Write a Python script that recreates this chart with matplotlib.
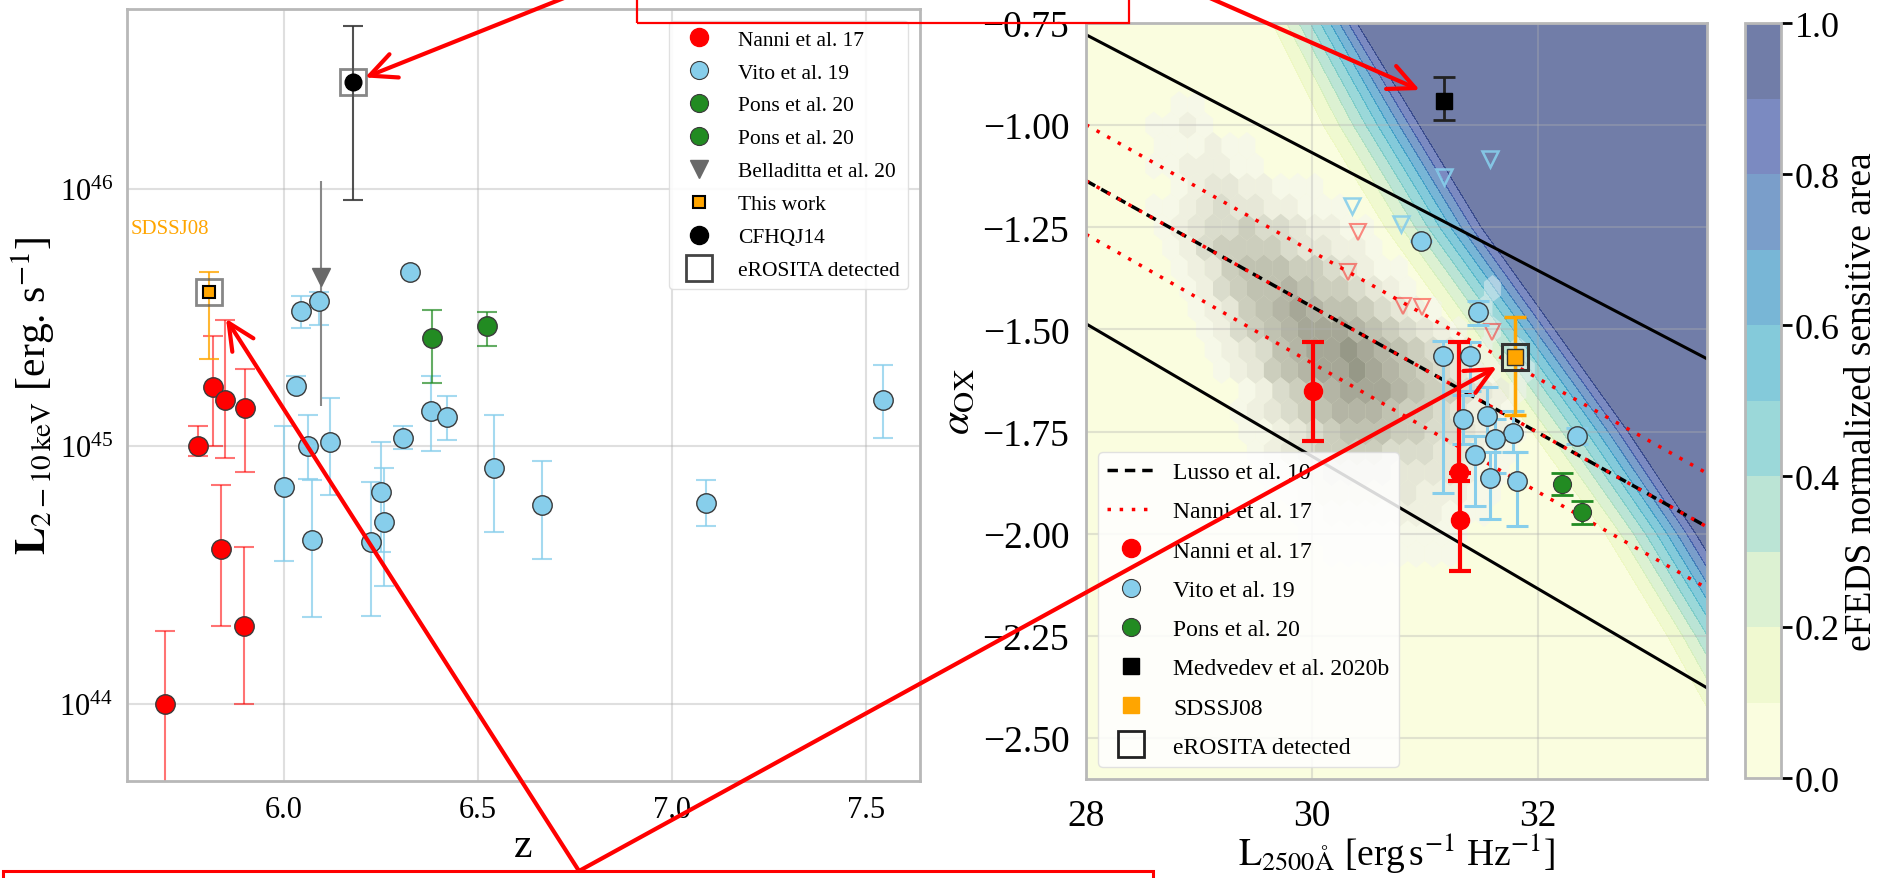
import numpy as np
import matplotlib
matplotlib.use("Agg")
import matplotlib.pyplot as plt
from matplotlib.patches import Rectangle, ConnectionPatch, ArrowStyle
from matplotlib.lines import Line2D
from matplotlib.ticker import FixedLocator, NullLocator, FuncFormatter

plt.rcParams['font.family'] = ['Liberation Serif', 'DejaVu Serif']
plt.rcParams['mathtext.fontset'] = 'stix'

# ---------------- left panel: log L(2-10 keV) versus redshift ----------------
nanni_z = [5.694, 5.777, 5.816, 5.847, 5.899, 5.838, 5.896]
nanni_logLx = [44.00, 45.00, 45.23, 45.18, 45.15, 44.60, 44.30]
nanni_logLx_hi = [44.28, 45.08, 45.43, 45.49, 45.30, 44.85, 44.61]
nanni_logLx_lo = [43.50, 44.96, 45.00, 44.955, 44.90, 44.30, 44.00]

vito_z = [6.044, 6.091, 6.326, 6.031, 6.378, 6.420, 6.541, 6.306, 6.119,
          6.062, 6.000, 6.073, 6.251, 6.259, 6.225, 6.666, 7.088, 7.544]
vito_logLx = [45.526, 45.565, 45.678, 45.235, 45.138, 45.115, 44.915, 45.033, 45.017,
              45.000, 44.843, 44.637, 44.823, 44.707, 44.629, 44.770, 44.780, 45.180]
vito_logLx_hi = [45.585, 45.600, 45.678, 45.274, 45.274, 45.196, 45.120, 45.080, 45.188,
                 45.120, 45.080, 44.870, 45.017, 44.917, 44.862, 44.944, 44.870, 45.317]
vito_logLx_lo = [45.460, 45.470, 45.678, 45.235, 44.980, 45.025, 44.665, 44.990, 44.810,
                 44.874, 44.555, 44.338, 44.590, 44.458, 44.342, 44.563, 44.690, 45.030]

pons_z = [6.381, 6.523]
pons_logLx = [45.421, 45.468]
pons_logLx_hi = [45.530, 45.522]
pons_logLx_lo = [45.247, 45.390]

bell_z = [6.096]
bell_logLx = [45.658]
bell_logLx_hi = [46.030]
bell_logLx_lo = [45.157]

this_z = [5.806]
this_logLx = [45.600]
this_logLx_hi = [45.678]
this_logLx_lo = [45.340]

cfhq_z = [6.179]
cfhq_logLx = [46.415]
cfhq_logLx_hi = [46.633]
cfhq_logLx_lo = [45.957]

left_xticks = [6.0, 6.5, 7.0, 7.5]
left_yticks = [1e44, 1e45, 1e46]

# ---------------- right panel: alpha_ox versus L2500 ----------------
r_nanni_L = [30.01, 31.30, 31.31]
r_nanni_aox = [-1.650, -1.849, -1.966]
r_nanni_aox_hi = [-1.531, -1.531, -1.850]
r_nanni_aox_lo = [-1.772, -1.871, -2.091]

r_nanni_ul_L = [30.41, 30.32, 30.81, 30.98, 31.60]
r_nanni_ul_aox = [-1.262, -1.360, -1.443, -1.445, -1.507]

r_vito_L = [30.97, 31.475, 31.165, 31.40, 31.34, 31.55, 31.785, 31.62, 31.445, 31.578, 31.815, 32.346]
r_vito_aox = [-1.283, -1.458, -1.564, -1.564, -1.719, -1.711, -1.753, -1.768, -1.807, -1.864, -1.870, -1.760]
r_vito_aox_hi = [-1.283, -1.430, -1.527, -1.530, -1.660, -1.640, -1.700, -1.720, -1.760, -1.800, -1.800, -1.740]
r_vito_aox_lo = [-1.283, -1.490, -1.900, -1.650, -1.780, -1.760, -1.800, -1.850, -1.931, -1.964, -1.980, -1.780]

r_vito_ul_L = [31.58, 31.17, 30.36, 30.79]
r_vito_ul_aox = [-1.083, -1.128, -1.197, -1.242]

r_pons_L = [32.22, 32.39]
r_pons_aox = [-1.878, -1.947]
r_pons_aox_hi = [-1.850, -1.920]
r_pons_aox_lo = [-1.905, -1.975]

r_med_L = [31.17]
r_med_aox = [-0.940]
r_med_aox_hi = [-0.882]
r_med_aox_lo = [-0.987]

r_sdss_L = [31.80]
r_sdss_aox = [-1.567]
r_sdss_aox_hi = [-1.470]
r_sdss_aox_lo = [-1.709]

# relations: alpha_ox = slope * L2500 + intercept
lusso_slope, lusso_icpt = -0.154, 3.176
envelope_hi = (-0.1442, 3.259)
envelope_lo = (-0.1620, 3.050)
nanni_rel_hi = (-0.1551, 3.344)
nanni_rel_mid = (-0.1540, 3.176)
nanni_rel_lo = (-0.1575, 3.143)

right_xticks = [28, 30, 32]
right_yticks = [-0.75, -1.00, -1.25, -1.50, -1.75, -2.00, -2.25, -2.50]
cbar_ticks = [0.0, 0.2, 0.4, 0.6, 0.8, 1.0]

# eFEDS sensitivity: L2500 where the sensitive fraction reaches 0.1 and 0.9, per alpha_ox
sens_aox = [-2.70, -2.50, -2.25, -2.00, -1.75, -1.50, -1.25, -1.00, -0.75, -0.60]
sens_L_10 = [34.00, 33.65, 33.15, 32.60, 31.95, 31.30, 30.65, 30.10, 29.65, 29.35]
sens_L_90 = [34.90, 34.50, 33.95, 33.40, 32.80, 32.15, 31.50, 30.95, 30.40, 30.10]
sens_ramp_power = 1.4

# density of the comparison quasar sample on the hexagon lattice
# rows: alpha_ox from -0.95 down in steps of 0.05; columns: L2500 from 28.6 in steps of 0.15
hex_rows = [
    "0110000000000000000000000",
    "1121000000000000000000000",
    "1112110000000000000000000",
    "1122211000000000000000000",
    "0123322111000000000000000",
    "1123433221110000000000000",
    "1234454432211000000000000",
    "0124555543322100000000000",
    "0123566655432110000000000",
    "0012456676554321000010000",
    "0012356787665432100100000",
    "0001245678887654321010000",
    "0001234678898765432101000",
    "0000123567889876543210100",
    "0000012456788876554321000",
    "0000012345677765543221000",
    "0000011234566655443221000",
    "0000001234555544433211000",
    "0000001123444433332110000",
    "0000000112333333222110000",
    "0000000011222222211100000",
    "0000000001111111111000000",
    "0000000000111111110000000",
]

# ---------------------------------------------------------------------------
W, H = 1883, 879
fig = plt.figure(figsize=(W / 100, H / 100), dpi=100)


def box(l, t, r, b):
    return [l / W, 1 - b / H, (r - l) / W, (b - t) / H]


ax1 = fig.add_axes(box(127, 10, 920, 782))
ax2 = fig.add_axes(box(1086, 24, 1707, 780))
cax = fig.add_axes(box(1745, 24, 1781, 779))

EDGE = '#3a3a3a'
SPINE = '#b8b8b8'


def lin(v):
    return 10.0 ** np.asarray(v, dtype=float)


def log_err(mid, hi, lo):
    m = lin(mid)
    return np.vstack([m - lin(lo), lin(hi) - m])


def lin_err(mid, hi, lo):
    m = np.asarray(mid, dtype=float)
    return np.vstack([m - np.asarray(lo), np.asarray(hi) - m])


# ---------------- left panel ----------------
ax1.set_yscale('log')
eb_kw = dict(fmt='none', elinewidth=1.5, capsize=7, capthick=1.5, zorder=2)
ax1.errorbar(nanni_z, lin(nanni_logLx), yerr=log_err(nanni_logLx, nanni_logLx_hi, nanni_logLx_lo),
             ecolor='red', alpha=0.55, **eb_kw)
ax1.errorbar(vito_z, lin(vito_logLx), yerr=log_err(vito_logLx, vito_logLx_hi, vito_logLx_lo),
             ecolor='skyblue', alpha=0.75, **eb_kw)
ax1.errorbar(pons_z, lin(pons_logLx), yerr=log_err(pons_logLx, pons_logLx_hi, pons_logLx_lo),
             ecolor='forestgreen', alpha=0.7, **eb_kw)
ax1.errorbar(bell_z, lin(bell_logLx), yerr=log_err(bell_logLx, bell_logLx_hi, bell_logLx_lo),
             fmt='none', ecolor='#888888', elinewidth=1.5, capsize=0, zorder=2)
ax1.errorbar(this_z, lin(this_logLx), yerr=log_err(this_logLx, this_logLx_hi, this_logLx_lo),
             ecolor='orange', alpha=0.8, **eb_kw)
ax1.errorbar(cfhq_z, lin(cfhq_logLx), yerr=log_err(cfhq_logLx, cfhq_logLx_hi, cfhq_logLx_lo),
             ecolor='#333333', alpha=0.85, **eb_kw)

mk = dict(ls='none', zorder=4)
ax1.plot(nanni_z, lin(nanni_logLx), marker='o', ms=14, mfc='red', mec=EDGE, mew=1.0, **mk)
ax1.plot(vito_z, lin(vito_logLx), marker='o', ms=14, mfc='skyblue', mec=EDGE, mew=1.0, **mk)
ax1.plot(pons_z, lin(pons_logLx), marker='o', ms=14, mfc='forestgreen', mec=EDGE, mew=1.0, **mk)
ax1.plot(bell_z, lin(bell_logLx), marker='v', ms=13, mfc='dimgray', mec='dimgray', **mk)
ax1.plot(this_z, lin(this_logLx), marker='s', ms=9, mfc='orange', mec='black', mew=1.5, **mk)
ax1.plot(cfhq_z, lin(cfhq_logLx), marker='o', ms=12, mfc='black', mec='black', **mk)
det_z = this_z + cfhq_z
det_logLx = this_logLx + cfhq_logLx
ax1.plot(det_z, lin(det_logLx), marker='s', ms=19, mfc='none', mec='#555555', mew=2, alpha=0.7,
         ls='none', zorder=5)

ax1.text(5.604, lin(45.845), 'SDSSJ08', color='orange', fontsize=15, va='center', ha='left')

left_handles = [
    Line2D([], [], ls='none', marker='o', ms=13, mfc='red', mec='red'),
    Line2D([], [], ls='none', marker='o', ms=13, mfc='skyblue', mec=EDGE, mew=0.8),
    Line2D([], [], ls='none', marker='o', ms=13, mfc='forestgreen', mec=EDGE, mew=0.8),
    Line2D([], [], ls='none', marker='o', ms=13, mfc='forestgreen', mec=EDGE, mew=0.8),
    Line2D([], [], ls='none', marker='v', ms=13, mfc='dimgray', mec='dimgray'),
    Line2D([], [], ls='none', marker='s', ms=9, mfc='orange', mec='black', mew=1.5),
    Line2D([], [], ls='none', marker='o', ms=13, mfc='black', mec='black'),
    Line2D([], [], ls='none', marker='s', ms=19, mfc='none', mec='#444444', mew=2),
]
left_labels = ['Nanni et al. 17', 'Vito et al. 19', 'Pons et al. 20', 'Pons et al. 20',
               'Belladitta et al. 20', 'This work', 'CFHQJ14', 'eROSITA detected']
ax1.legend(left_handles, left_labels, loc='upper right', fontsize=15.5, framealpha=0.9,
           edgecolor='#dddddd', borderaxespad=0.55, labelspacing=0.6)

ax1.set_xlim(5.595, 7.64)
ax1.set_ylim(5e43, 5e46)
ax1.xaxis.set_major_locator(FixedLocator(left_xticks))
ax1.xaxis.set_major_formatter(FuncFormatter(lambda v, p: f'{v:.1f}'))
ax1.yaxis.set_major_locator(FixedLocator(left_yticks))
ax1.yaxis.set_minor_locator(NullLocator())
ax1.tick_params(axis='both', which='both', length=0, labelsize=22, pad=10)
ax1.grid(True, which='major', color='#b0b0b0', alpha=0.4, lw=1.5)
ax1.set_xlabel('z', fontsize=30, labelpad=2)
ax1.set_ylabel(r'$\mathbf{L}_{2-10\,\mathrm{keV}}$ [erg. s$^{-1}$]', fontsize=30, labelpad=2)

# ---------------- right panel ----------------
L_axis = np.linspace(28.0, 33.5, 500)
A_axis = np.linspace(-2.6, -0.75, 400)
LL, AA = np.meshgrid(L_axis, A_axis)
edge10 = np.interp(AA, sens_aox, sens_L_10)
edge90 = np.interp(AA, sens_aox, sens_L_90)
t10 = 0.1 ** (1 / sens_ramp_power)
t90 = 0.9 ** (1 / sens_ramp_power)
ramp = np.clip(t10 + (t90 - t10) * (LL - edge10) / (edge90 - edge10), 0.0, 1.0)
frac = ramp ** sens_ramp_power
cf = ax2.contourf(LL, AA, frac, levels=np.linspace(0, 1, 11), cmap='YlGnBu', alpha=0.6, zorder=0.5)

hx, hy, hc = [], [], []
for k, row in enumerate(hex_rows):
    a = -0.95 - 0.05 * k
    shift = 0.075 if k % 2 == 0 else 0.0
    for c, ch in enumerate(row):
        if ch != '0':
            hx.append(28.6 + shift + 0.15 * c)
            hy.append(a)
            hc.append(int(ch))
ax2.hexbin(hx, hy, C=hc, gridsize=(36, 20), extent=(28.0, 33.4, -2.6, -0.6),
           reduce_C_function=np.max, cmap='Greys', vmin=0, vmax=10, alpha=0.45,
           linewidths=0, zorder=0.8)

Lx = np.array([28.0, 33.5])
ax2.plot(Lx, envelope_hi[0] * Lx + envelope_hi[1], color='black', lw=2.2, zorder=2)
ax2.plot(Lx, envelope_lo[0] * Lx + envelope_lo[1], color='black', lw=2.2, zorder=2)
ax2.plot(Lx, lusso_slope * Lx + lusso_icpt, color='black', lw=2.5, ls=(0, (3, 2)), zorder=2)
for sl, ic in (nanni_rel_hi, nanni_rel_mid, nanni_rel_lo):
    ax2.plot(Lx, sl * Lx + ic, color='red', lw=2.5, ls=(0, (1, 2.5)), zorder=2.1)

# upper limits
ax2.plot(r_vito_ul_L, r_vito_ul_aox, ls='none', marker='v', ms=12, mfc='none', mec='skyblue',
         mew=1.8, alpha=0.9, zorder=3)
ax2.plot(r_nanni_ul_L, r_nanni_ul_aox, ls='none', marker='v', ms=12, mfc='none', mec='red',
         mew=1.5, alpha=0.45, zorder=3)

eb2 = dict(fmt='none', capsize=8, zorder=3)
ax2.errorbar(r_vito_L, r_vito_aox, yerr=lin_err(r_vito_aox, r_vito_aox_hi, r_vito_aox_lo),
             ecolor='skyblue', elinewidth=2.2, capthick=2.2, **eb2)
ax2.errorbar(r_nanni_L, r_nanni_aox, yerr=lin_err(r_nanni_aox, r_nanni_aox_hi, r_nanni_aox_lo),
             ecolor='red', elinewidth=3, capthick=3, **eb2)
ax2.errorbar(r_pons_L, r_pons_aox, yerr=lin_err(r_pons_aox, r_pons_aox_hi, r_pons_aox_lo),
             ecolor='forestgreen', elinewidth=2, capthick=2, **eb2)
ax2.errorbar(r_med_L, r_med_aox, yerr=lin_err(r_med_aox, r_med_aox_hi, r_med_aox_lo),
             ecolor='#222222', elinewidth=2, capthick=2, **eb2)
ax2.errorbar(r_sdss_L, r_sdss_aox, yerr=lin_err(r_sdss_aox, r_sdss_aox_hi, r_sdss_aox_lo),
             ecolor='orange', elinewidth=2.5, capthick=2.5, **eb2)

mk2 = dict(ls='none', zorder=4)
ax2.plot(r_vito_L, r_vito_aox, marker='o', ms=14, mfc='skyblue', mec=EDGE, mew=1.0, **mk2)
ax2.plot(r_nanni_L, r_nanni_aox, marker='o', ms=13, mfc='red', mec='red', **mk2)
ax2.plot(r_pons_L, r_pons_aox, marker='o', ms=13, mfc='forestgreen', mec=EDGE, mew=0.8, **mk2)
ax2.plot(r_med_L, r_med_aox, marker='s', ms=12, mfc='black', mec='black', **mk2)
ax2.plot(r_sdss_L, r_sdss_aox, marker='s', ms=11, mfc='orange', mec='#333333', mew=1, **mk2)
ax2.plot(r_sdss_L, r_sdss_aox, marker='s', ms=19, mfc='none', mec='#333333', mew=2.2,
         ls='none', zorder=5)

right_handles = [
    Line2D([], [], color='black', lw=2.5, ls=(0, (3, 2))),
    Line2D([], [], color='red', lw=2.5, ls=(0, (1, 2.5))),
    Line2D([], [], ls='none', marker='o', ms=13, mfc='red', mec='red'),
    Line2D([], [], ls='none', marker='o', ms=13, mfc='skyblue', mec=EDGE, mew=0.8),
    Line2D([], [], ls='none', marker='o', ms=13, mfc='forestgreen', mec=EDGE, mew=0.8),
    Line2D([], [], ls='none', marker='s', ms=12, mfc='black', mec='black'),
    Line2D([], [], ls='none', marker='s', ms=12, mfc='orange', mec='orange'),
    Line2D([], [], ls='none', marker='s', ms=19, mfc='none', mec='#222222', mew=2),
]
right_labels = ['Lusso et al. 10', 'Nanni et al. 17', 'Nanni et al. 17', 'Vito et al. 19',
                'Pons et al. 20', 'Medvedev et al. 2020b', 'SDSSJ08', 'eROSITA detected']
ax2.legend(right_handles, right_labels, loc='lower left', fontsize=17, framealpha=0.85,
           edgecolor='#dddddd', borderaxespad=0.5, labelspacing=0.75)

ax2.set_xlim(28.0, 33.5)
ax2.set_ylim(-2.6, -0.75)
ax2.xaxis.set_major_locator(FixedLocator(right_xticks))
ax2.yaxis.set_major_locator(FixedLocator(right_yticks))
ax2.xaxis.set_major_formatter(FuncFormatter(lambda v, p: f'{v:.0f}'))
ax2.yaxis.set_major_formatter(FuncFormatter(lambda v, p: f'{v:.2f}'.replace('-', '\u2212')))
ax2.tick_params(axis='both', length=0, labelsize=27, pad=12)
ax2.tick_params(axis='x', pad=14)
ax2.grid(True, color='#b0b0b0', alpha=0.35, lw=1.5)
ax2.set_xlabel(r'$\mathrm{L}_{2500\mathrm{\AA}}$ [erg$\,$s$^{-1}$ Hz$^{-1}$]', fontsize=27)
ax2.xaxis.set_label_coords(0.5, (780 - 832) / 756)
ax2.set_ylabel(r'$\alpha_{\mathrm{OX}}$', fontsize=30, labelpad=4)

for ax in (ax1, ax2):
    for s in ax.spines.values():
        s.set_color(SPINE)
        s.set_linewidth(2)

cbar = fig.colorbar(cf, cax=cax, ticks=cbar_ticks)
cbar.ax.yaxis.set_major_formatter(FuncFormatter(lambda v, p: f'{v:.1f}'))
cbar.ax.tick_params(length=8, width=2, color='black', labelsize=26, pad=2)
cbar.outline.set_edgecolor(SPINE)
cbar.outline.set_linewidth(2)
cbar.set_label('eFEDS normalized sensitive area', fontsize=27, labelpad=3)

# ---------------- call-out boxes and arrows ----------------
RED = '#ff0000'


def frac_pt(x, y):
    return (x / W, 1 - y / H)


fig.add_artist(Rectangle(frac_pt(637, 24), (1129 - 637) / W, 80 / H, transform=fig.transFigure,
                         fill=False, ec=RED, lw=1.6, clip_on=False, zorder=10))
fig.add_artist(Rectangle(frac_pt(3, 960), (1153 - 3) / W, (960 - 872) / H, transform=fig.transFigure,
                         fill=False, ec=RED, lw=2.2, clip_on=False, zorder=10))

head = ArrowStyle('->', head_length=1.9, head_width=0.9)
targets = [
    (frac_pt(902, -136), (cfhq_z[0], lin(cfhq_logLx[0])), ax1, 9),
    (frac_pt(902, -136), (r_med_L[0], r_med_aox[0]), ax2, 19),
    (frac_pt(579, 872), (this_z[0], lin(this_logLx[0])), ax1, 23),
    (frac_pt(579, 872), (r_sdss_L[0], r_sdss_aox[0]), ax2, 15),
]
for start, end, axx, shrink in targets:
    cp = ConnectionPatch(xyA=start, coordsA=fig.transFigure, xyB=end, coordsB=axx.transData,
                         arrowstyle=head, mutation_scale=10, color=RED, lw=3,
                         shrinkA=0, shrinkB=shrink, zorder=11, clip_on=False)
    fig.add_artist(cp)

fig.savefig('out.png', dpi=100)
